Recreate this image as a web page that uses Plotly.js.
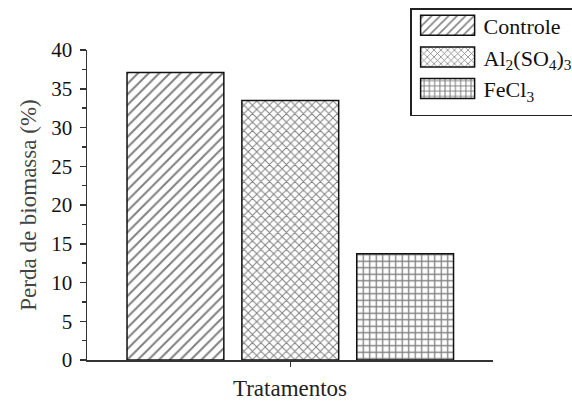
<!DOCTYPE html>
<html>
<head>
<meta charset="utf-8">
<script src="https://cdn.plot.ly/plotly-3.0.1.min.js"></script>
<style>
  html, body { margin: 0; padding: 0; background: #fff; }
  #chart { width: 572px; height: 401px; }
</style>
</head>
<body>
<div id="chart"></div>
<script>
// Biomass loss per treatment
const groupLabel = ['Tratamentos'];
const seriesNames = ['Controle', 'Al<sub>2</sub>(SO<sub>4</sub>)<sub>3</sub>', 'FeCl<sub>3</sub>'];
const seriesValues = [37.1, 33.5, 13.7];
const seriesPatterns = ['/', 'x', '+'];
const patternSizes = [7.5, 6, 6.5];
const patternSolidity = [0.26, 0.3, 0.36];

const serif = 'Liberation Serif, Times New Roman, serif';

const traces = seriesNames.map((name, i) => ({
  type: 'bar',
  name: name,
  x: groupLabel,
  y: [seriesValues[i]],
  marker: {
    color: '#ffffff',
    line: { color: '#111', width: 1.5 },
    pattern: {
      shape: seriesPatterns[i],
      size: patternSizes[i],
      solidity: patternSolidity[i],
      fgcolor: '#000',
      bgcolor: '#ffffff',
      fillmode: 'overlay'
    }
  },
  hoverinfo: 'skip'
}));

const layout = {
  width: 572,
  height: 401,
  margin: { l: 87, r: 79, t: 50, b: 41, autoexpand: false },
  paper_bgcolor: '#ffffff',
  plot_bgcolor: '#ffffff',
  barmode: 'group',
  bargap: 0.2,
  bargroupgap: 0.157,
  showlegend: true,
  legend: {
    xref: 'container', yref: 'container',
    x: 0.717, y: 0.98, xanchor: 'left', yanchor: 'top',
    bgcolor: '#ffffff',
    bordercolor: '#222',
    borderwidth: 1.5,
    itemwidth: 62,
    font: { family: serif, size: 22, color: '#111' }
  },
  xaxis: {
    type: 'category',
    range: [-0.472, 0.4707],
    showticklabels: false,
    ticks: 'outside',
    ticklen: 5,
    tickwidth: 1.5,
    tickcolor: '#333',
    showline: true,
    linecolor: '#333',
    linewidth: 1.5,
    showgrid: false,
    zeroline: false,
    fixedrange: true,
    title: { text: 'Tratamentos', font: { family: serif, size: 23, color: '#222' }, standoff: 19 }
  },
  yaxis: {
    range: [0, 40],
    dtick: 5,
    ticks: 'outside',
    ticklen: 6,
    tickwidth: 1.5,
    tickcolor: '#333',
    minor: { dtick: 2.5, ticks: 'outside', ticklen: 3.5, tickwidth: 1.5, tickcolor: '#333', showgrid: false },
    showline: true,
    linecolor: '#333',
    linewidth: 1.5,
    showgrid: false,
    zeroline: false,
    fixedrange: true,
    ticklabelstandoff: 3,
    tickfont: { family: serif, size: 21, color: '#111' },
    title: { text: 'Perda de biomassa (%)', font: { family: serif, size: 23, color: '#444' }, standoff: 8 }
  }
};

Plotly.newPlot('chart', traces, layout, { displayModeBar: false, staticPlot: true }).then(gd => {
  // Enlarge the legend swatches into wide rectangles
  gd.querySelectorAll('.legend .legendpoints path').forEach(p => {
    p.setAttribute('d', 'M-27,-10H27V10H-27Z');
  });
  // Pull the legend entries a little closer to the top border
  gd.querySelectorAll('.legend .traces').forEach(g => {
    const m = /translate\(([-\d.]+),\s*([-\d.]+)\)/.exec(g.getAttribute('transform') || '');
    if (m) g.setAttribute('transform', `translate(${m[1]},${parseFloat(m[2]) - 5})`);
  });
});
</script>
</body>
</html>
